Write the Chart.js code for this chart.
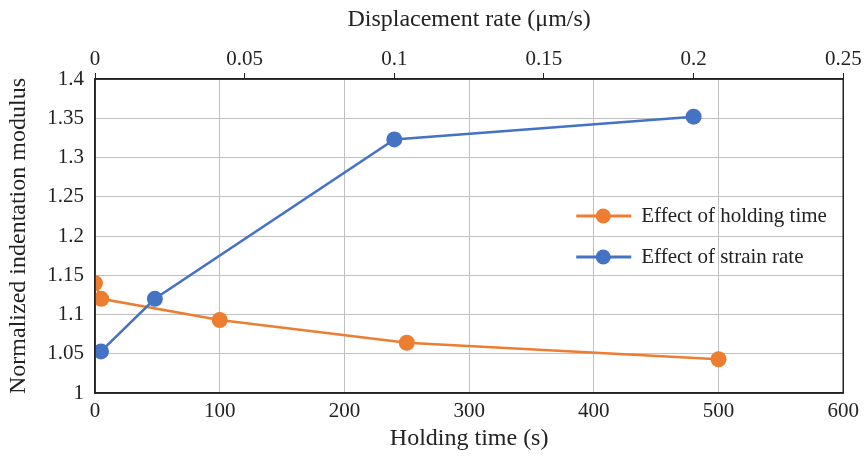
<!DOCTYPE html>
<html>
<head>
<meta charset="utf-8">
<script src="https://cdn.jsdelivr.net/npm/chart.js@4.4.0/dist/chart.umd.min.js"></script>
<style>
  html, body { margin: 0; padding: 0; background: #fff; }
  #wrap { width: 865px; height: 459px; }
</style>
</head>
<body>
<div id="wrap"><canvas id="modulusChart" width="865" height="459"></canvas></div>
<script>
// holding time series (bottom axis)
const holdingTime = [0, 5, 100, 250, 500];
const holdingModulus = [1.14, 1.12, 1.093, 1.064, 1.043];
// strain rate series (top axis)
const dispRate = [0.002, 0.02, 0.1, 0.2];
const rateModulus = [1.053, 1.12, 1.323, 1.352];

const seriesNames = ['Effect of holding time', 'Effect of strain rate'];
const orange = '#ED7D31';
const blue = '#4472C4';
const serif = "'Liberation Serif', 'Times New Roman', serif";

const toPoints = (xs, ys) => xs.map((x, i) => ({ x: x, y: ys[i] }));

// frame + legend inside the plot area
const framePlugin = {
    id: 'frame',
    afterDraw(chart) {
        const c = chart.ctx;
        const a = chart.chartArea;
        c.save();
        c.strokeStyle = '#222';
        c.lineWidth = 1.5;
        c.strokeRect(a.left, a.top, a.right - a.left, a.bottom - a.top);

        const x0 = a.right - 267;
        const rows = [a.top + 137, a.top + 178];
        chart.data.datasets.forEach((ds, i) => {
            const y = rows[i];
            c.strokeStyle = ds.borderColor;
            c.lineWidth = 3;
            c.beginPath();
            c.moveTo(x0, y);
            c.lineTo(x0 + 55, y);
            c.stroke();
            c.fillStyle = ds.backgroundColor;
            c.beginPath();
            c.arc(x0 + 27, y, 7.5, 0, Math.PI * 2);
            c.fill();
            c.fillStyle = '#222';
            c.font = '21px ' + serif;
            c.textBaseline = 'middle';
            c.fillText(seriesNames[i], x0 + 65, y);
        });
        c.restore();
    }
};

new Chart(document.getElementById('modulusChart'), {
    type: 'line',
    plugins: [framePlugin],
    data: {
        datasets: [{
            label: seriesNames[0],
            data: toPoints(holdingTime, holdingModulus),
            xAxisID: 'x',
            borderColor: orange,
            backgroundColor: orange,
            borderWidth: 2.5,
            pointRadius: 8,
            pointBorderWidth: 0,
            order: 1
        }, {
            label: seriesNames[1],
            data: toPoints(dispRate, rateModulus),
            xAxisID: 'x2',
            borderColor: blue,
            backgroundColor: blue,
            borderWidth: 2.5,
            pointRadius: 8,
            pointBorderWidth: 0,
            order: 0
        }]
    },
    options: {
        responsive: false,
        animation: false,
        layout: { padding: { right: 20, top: 0, bottom: 0, left: 0 } },
        plugins: {
            legend: { display: false },
            tooltip: { enabled: false }
        },
        scales: {
            x: {
                type: 'linear',
                position: 'bottom',
                min: 0, max: 600,
                ticks: { stepSize: 100, color: '#222', font: { family: serif, size: 21 }, padding: 6 },
                grid: { color: '#c0c0c0', drawTicks: false },
                border: { color: '#222', width: 1.5 },
                title: { display: true, text: 'Holding time (s)', color: '#222', font: { family: serif, size: 24 }, padding: { top: 4, bottom: 6 } },
                afterFit(s) { s.height = 66; }
            },
            x2: {
                type: 'linear',
                position: 'top',
                min: 0, max: 0.25,
                ticks: {
                    stepSize: 0.05, color: '#222', font: { family: serif, size: 21 }, padding: 1,
                    callback: v => String(parseFloat(v.toFixed(2)))
                },
                grid: { drawOnChartArea: false, color: '#222', tickLength: 6 },
                border: { color: '#222', width: 1.5 },
                title: { display: true, text: 'Displacement rate (μm/s)', color: '#222', font: { family: serif, size: 24 }, padding: { top: 5, bottom: 4 } },
                afterFit(s) { s.height = 79; }
            },
            y: {
                min: 1, max: 1.4,
                ticks: {
                    stepSize: 0.05, color: '#222', font: { family: serif, size: 21 }, padding: 11,
                    callback: v => String(parseFloat(v.toFixed(2)))
                },
                grid: { color: '#c0c0c0', drawTicks: false },
                border: { color: '#222', width: 1.5 },
                title: { display: true, text: 'Normalized indentation modulus', color: '#222', font: { family: serif, size: 24 }, padding: { bottom: 6 } },
                afterFit(s) { s.width = 95; }
            }
        }
    }
});
</script>
</body>
</html>
